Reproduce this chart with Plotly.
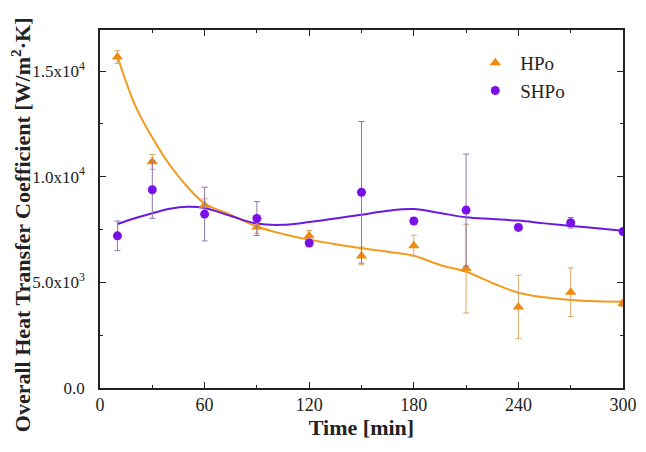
import plotly.graph_objects as go

# Measured points
time = [10, 30, 60, 90, 120, 150, 180, 210, 240, 270, 300]
hpo = [15660, 10700, 8650, 7620, 7200, 6250, 6730, 5650, 3830, 4530, 4000]
hpo_err = [300, 350, 300, 300, 250, 420, 500, 2100, 1500, 1150, 150]
shpo = [7200, 9380, 8230, 8020, 6860, 9260, 7900, 8420, 7600, 7820, 7400]
shpo_err = [700, 1350, 1270, 800, 150, 3350, 150, 2650, 150, 250, 100]

# Smoothed fit curves
fit_t = [10, 20, 30, 40, 50, 60, 75, 90, 105, 120, 135, 150, 165, 180, 195, 210, 225, 240, 255, 270, 285, 300]
hpo_fit = [15700, 13400, 11850, 10550, 9530, 8730, 8190, 7640, 7290, 7020, 6800, 6610, 6450, 6260, 5820, 5500, 4970, 4510, 4290, 4160, 4100, 4080]
shpo_fit = [7760, 8030, 8270, 8480, 8580, 8520, 8140, 7780, 7720, 7850, 8020, 8200, 8390, 8470, 8280, 8080, 8000, 7920, 7790, 7670, 7560, 7440]

y_tickvals = [0, 5000, 10000, 15000]
y_ticktext = ["0.0", "5.0x10<sup>3</sup>", "1.0x10<sup>4</sup>", "1.5x10<sup>4</sup>"]
x_tickvals = [0, 60, 120, 180, 240, 300]
y_title = "<b>Overall Heat Transfer Coefficient [W/m<sup>2</sup>·K]</b>"
x_title = "<b>Time [min]</b>"

ORANGE = "#f28a12"
PURPLE = "#7a10e8"

fig = go.Figure()
fig.add_trace(go.Scatter(x=fit_t, y=hpo_fit, mode="lines", line=dict(color="#f29a1e", width=2, shape="spline"),
                         showlegend=False, hoverinfo="skip"))
fig.add_trace(go.Scatter(x=fit_t, y=shpo_fit, mode="lines", line=dict(color="#6a1ae0", width=2, shape="spline"),
                         showlegend=False, hoverinfo="skip"))
fig.add_trace(go.Scatter(x=time, y=hpo, mode="markers", name="HPo",
                         marker=dict(symbol="triangle-up", size=10, color=ORANGE),
                         error_y=dict(type="data", array=hpo_err, color="#d8a868", thickness=1, width=3)))
fig.add_trace(go.Scatter(x=time, y=shpo, mode="markers", name="SHPo",
                         marker=dict(symbol="circle", size=9, color=PURPLE),
                         error_y=dict(type="data", array=shpo_err, color="#8c78a8", thickness=1, width=3)))

font_family = "Liberation Serif"
fig.update_layout(
    width=646, height=452,
    margin=dict(l=92, r=31, t=22, b=72),
    paper_bgcolor="white", plot_bgcolor="white",
    font=dict(family=font_family, size=18, color="#222"),
    legend=dict(x=0.708, y=0.961, xanchor="left", yanchor="top", bgcolor="rgba(0,0,0,0)",
                font=dict(family=font_family, size=19), itemwidth=40, tracegroupgap=2),
    xaxis=dict(range=[0, 300], tickvals=x_tickvals, ticks="inside", ticklen=6, tickcolor="#222",
               showline=True, linecolor="#222", linewidth=1.5, mirror="allticks", showgrid=False, zeroline=False,
               minor=dict(ticks="inside", tickvals=[30, 90, 150, 210, 270], ticklen=3, tickcolor="#222"),
               title=dict(text=x_title, font=dict(family=font_family, size=22), standoff=2),
               tickfont=dict(family=font_family, size=18)),
    yaxis=dict(range=[0, 16940], tickvals=y_tickvals, ticktext=y_ticktext, ticks="inside", ticklen=6, tickcolor="#222",
               showline=True, linecolor="#222", linewidth=1.5, mirror="allticks", showgrid=False, zeroline=False,
               minor=dict(ticks="inside", tickvals=[2500, 7500, 12500], ticklen=3, tickcolor="#222"),
               ticklabelstandoff=10,
               tickfont=dict(family=font_family, size=17)),
)
fig.add_annotation(text=y_title, xref="paper", yref="paper", x=-0.151, y=0.455,
                   xanchor="center", yanchor="middle", textangle=-90, showarrow=False,
                   font=dict(family=font_family, size=22, color="#222"))

fig.write_html("out.html")
